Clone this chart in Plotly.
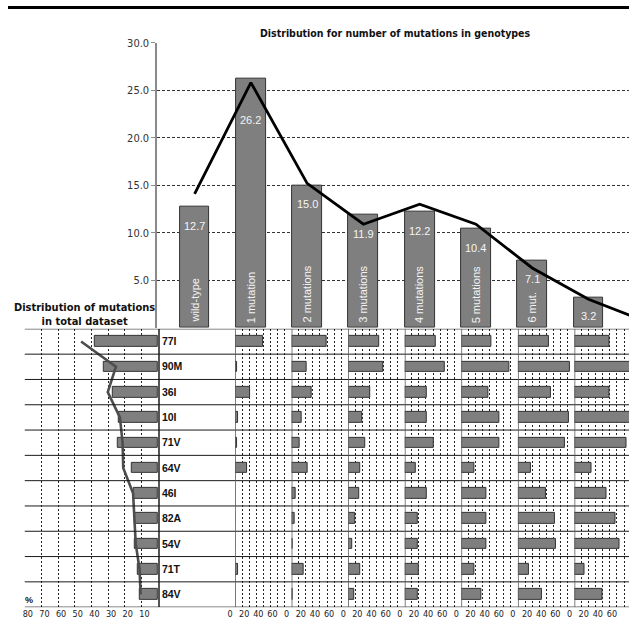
import plotly.graph_objects as go

W, H = 629, 623
NARROW = "Liberation Sans Narrow, DejaVu Sans Condensed, Liberation Sans, Arial, sans-serif"
SANS = "Liberation Sans, Arial, sans-serif"

# ---- genotype classes (upper chart) ----
geno_labels = ["wild-type", "1 mutation", "2 mutations", "3 mutations",
               "4 mutations", "5 mutations", "6 mut.", ""]
geno_pct = [12.7, 26.2, 15.0, 11.9, 12.2, 10.4, 7.1, 3.2]
geno_trend = [14.1, 25.8, 15.2, 10.9, 13.0, 10.9, 6.3, 3.0, 0.7]
geno_ticks = [5, 10, 15, 20, 25, 30]

# ---- mutations (lower grid) ----
mutations = ["77I", "90M", "36I", "10I", "71V", "64V", "46I", "82A", "54V", "71T", "84V"]
total_pct = [37.7, 32.8, 26.9, 23.3, 23.9, 16.0, 14.4, 14.0, 14.0, 12.0, 11.1]
total_trend = [46.2, 25.3, 30.2, 22.9, 21.3, 20.9, 15.0, 14.0, 13.4, 11.1, 10.5]
total_ticks = [10, 20, 30, 40, 50, 60, 70, 80]

# prevalence of each mutation inside each genotype class
pct_1mut = [39.5, 3.3, 21.0, 4.7, 2.8, 17.2, 0.0, 0.0, 0.0, 4.7, 0.0]
pct_2mut = [48.8, 20.9, 28.4, 14.4, 11.6, 23.3, 5.6, 3.7, 1.4, 16.7, 1.4]
pct_3mut = [44.2, 49.8, 31.2, 19.5, 24.2, 17.2, 15.3, 9.3, 5.6, 17.2, 7.9]
pct_4mut = [43.3, 56.7, 31.2, 31.6, 40.5, 15.3, 31.2, 19.0, 18.1, 20.0, 19.0]
pct_5mut = [42.3, 67.4, 38.1, 53.5, 53.5, 18.1, 35.8, 35.8, 35.8, 18.6, 27.9]
pct_6mut = [43.7, 74.0, 46.5, 71.6, 67.0, 18.1, 39.0, 52.6, 54.4, 15.8, 34.4]
pct_7mut = [48.8, 85.0, 48.8, 82.0, 73.5, 24.2, 45.6, 58.6, 63.3, 14.4, 39.0]
class_pcts = [pct_1mut, pct_2mut, pct_3mut, pct_4mut, pct_5mut, pct_6mut, pct_7mut]
panel_ticks = [0, 10, 20, 30, 40, 50, 60, 70]
panel_ticktext = ["0", "", "20", "", "40", "", "60", ""]


def px_x(p):
    return p / W


def px_y(p):
    return 1 - p / H


BAR_FILL = "#7f7f7f"
BAR_EDGE = "#333333"
GRID_DOT = "2px,2px"

fig = go.Figure()

# upper chart: bars + trend line
idx = list(range(len(geno_pct)))
fig.add_trace(go.Bar(
    x=idx, y=geno_pct, width=0.53,
    marker=dict(color=BAR_FILL, line=dict(color=BAR_EDGE, width=1)),
    xaxis="x", yaxis="y", showlegend=False, hoverinfo="skip",
))
fig.add_trace(go.Scatter(
    x=list(range(len(geno_trend))), y=geno_trend, mode="lines",
    line=dict(color="black", width=2.8),
    xaxis="x", yaxis="y", showlegend=False, hoverinfo="skip",
))

rows = list(range(len(mutations)))

# lower-left: prevalence in total dataset (bars grow leftwards)
fig.add_trace(go.Bar(
    x=total_pct, y=rows, orientation="h", width=0.42,
    marker=dict(color=BAR_FILL, line=dict(color=BAR_EDGE, width=1)),
    xaxis="x2", yaxis="y2", showlegend=False, hoverinfo="skip",
))
fig.add_trace(go.Scatter(
    x=total_trend, y=rows, mode="lines",
    line=dict(color="#4d4d4d", width=2.6),
    xaxis="x2", yaxis="y2", showlegend=False, hoverinfo="skip",
))

# lower-right: one small panel per genotype class
panel_left = 230.0
panel_w = 57.3
for k, vals in enumerate(class_pcts):
    fig.add_trace(go.Bar(
        x=vals, y=rows, orientation="h", width=0.42,
        marker=dict(color=BAR_FILL, line=dict(color=BAR_EDGE, width=1)),
        xaxis=f"x{k + 3}", yaxis="y2", showlegend=False, hoverinfo="skip",
    ))

layout = dict(
    width=W, height=H, margin=dict(l=0, r=0, t=0, b=0),
    paper_bgcolor="white", plot_bgcolor="white",
    bargap=0, showlegend=False,
    xaxis=dict(domain=[px_x(151), 1], range=[-0.667, 7.72], anchor="y",
               showticklabels=False, showgrid=False, zeroline=False, showline=False,
               ticks=""),
    yaxis=dict(domain=[px_y(325), px_y(37)], range=[0, 30], anchor="x",
               tickvals=geno_ticks, tickformat=".1f", showgrid=False, zeroline=False,
               showline=True, linecolor="#8a8a8a", linewidth=1.5,
               ticks="outside", ticklen=4, tickcolor="#8a8a8a",
               tickfont=dict(size=11, color="#333", family=NARROW),
               minor=dict(tickvals=[5, 10, 15, 20, 25], showgrid=True,
                          gridcolor="#333", griddash="3px,2px", gridwidth=1, ticks="")),
    xaxis2=dict(domain=[px_x(17), px_x(152)], range=[80, 0], anchor="y2",
                tickvals=total_ticks, showgrid=True, gridcolor="#222",
                griddash=GRID_DOT, gridwidth=1, zeroline=False, showline=False,
                ticks="", ticklabelshift=-3,
                tickfont=dict(size=9, color="#222", family=NARROW)),
    yaxis2=dict(domain=[px_y(607), px_y(326)], range=[10.5, -0.5], anchor="x2",
                side="right", tickvals=rows, ticktext=mutations,
                showgrid=False, zeroline=False, showline=True,
                linecolor="#555", linewidth=1.5, ticks="",
                tickfont=dict(size=10.5, color="#111", family=SANS, weight="bold")),
)

for k in range(len(class_pcts)):
    left = panel_left + panel_w * k
    right = min(left + panel_w, W)
    xmax = 80 * (right - left) / panel_w
    layout[f"xaxis{k + 3}"] = dict(
        domain=[px_x(left), px_x(right)], range=[0, xmax], anchor="y2",
        tickvals=panel_ticks, ticktext=panel_ticktext,
        showgrid=True, gridcolor="#222", griddash=GRID_DOT, gridwidth=1,
        zeroline=False, showline=False, ticks="", ticklabelshift=-5,
        tickfont=dict(size=9, color="#222", family=NARROW),
    )

shapes = [
    # heavy rule along the top edge
    dict(type="line", xref="paper", yref="paper", x0=0, x1=1,
         y0=px_y(1.5), y1=px_y(1.5), line=dict(color="black", width=3)),
]
# row separators across the whole lower grid
for b in [r - 0.5 for r in rows] + [rows[-1] + 0.5]:
    shapes.append(dict(type="line", xref="paper", yref="y2", x0=px_x(17), x1=1,
                       y0=b, y1=b, line=dict(color="#1a1a1a", width=1)))
# panel separators
for k in range(len(class_pcts)):
    shapes.append(dict(type="line", xref=f"x{k + 3}", yref="y2", x0=0, x1=0,
                       y0=-0.5, y1=10.5, line=dict(color="#555", width=1.5)))
layout["shapes"] = shapes

annotations = [
    dict(text="<b>Distribution for number of mutations in genotypes</b>",
         x=px_x(392), y=px_y(27), xref="paper", yref="paper", showarrow=False,
         xanchor="center", yanchor="middle",
         font=dict(size=10.5, color="#111", family=NARROW)),
    dict(text="<b>Distribution of mutations<br>in total dataset</b>",
         x=px_x(77), y=px_y(311), xref="paper", yref="paper", showarrow=False,
         xanchor="center", yanchor="middle",
         font=dict(size=11, color="#111", family=NARROW)),
    dict(text="<b>%</b>", x=px_x(21), y=px_y(600), xref="paper", yref="paper",
         showarrow=False, xanchor="center", yanchor="middle",
         font=dict(size=9, color="#111", family=SANS)),
]
# category names written up the inside of each bar
for i, lab in enumerate(geno_labels):
    if lab:
        annotations.append(dict(
            text=lab, x=i, y=0, xref="x", yref="y", textangle=-90,
            showarrow=False, yanchor="bottom", yshift=3,
            font=dict(size=11, color="#f4f4f4", family=SANS)))
# value labels just under each bar top; the tallest one sits below the trend peak
peak = max(geno_pct)
for i, v in enumerate(geno_pct):
    drop = -33 if v == peak else -11
    annotations.append(dict(
        text=f"{v:.1f}", x=i, y=v, xref="x", yref="y", showarrow=False,
        yanchor="top", yshift=drop, xanchor="center",
        font=dict(size=11, color="#f4f4f4", family=SANS)))
layout["annotations"] = annotations

fig.update_layout(**layout)
fig.write_html("out.html")
